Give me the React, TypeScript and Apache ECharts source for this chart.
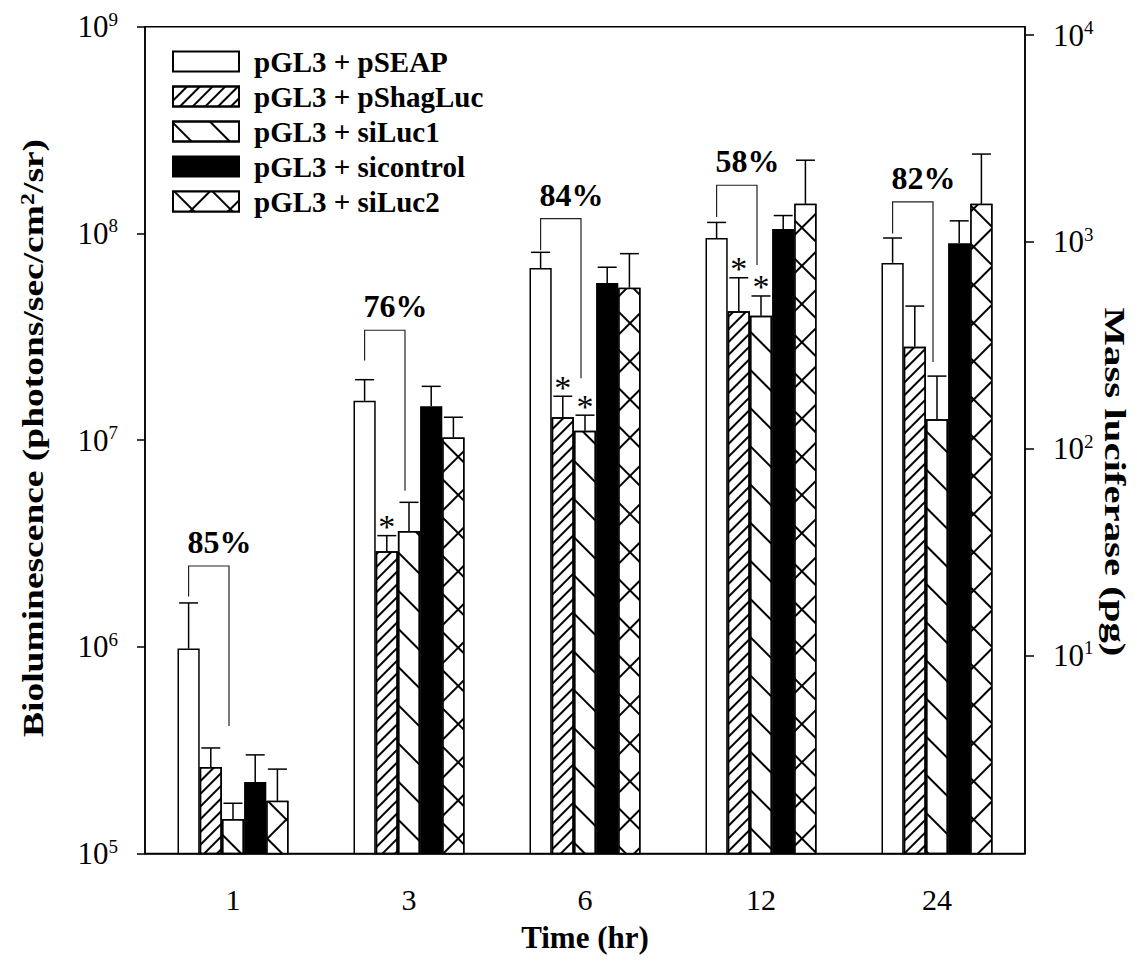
import React, { useEffect, useRef } from 'react';
import * as echarts from 'echarts';

// ---------- data ----------
const CATEGORIES = ['1', '3', '6', '12', '24'];
const SERIES_NAMES = [
  'pGL3 + pSEAP',
  'pGL3 + pShagLuc',
  'pGL3 + siLuc1',
  'pGL3 + sicontrol',
  'pGL3 + siLuc2',
];

const SEAP = [9.8e5, 1.55e7, 6.8e7, 9.5e7, 7.2e7];
const SEAP_ERR = [1.63e6, 1.96e7, 8.1e7, 1.13e8, 9.5e7];
const SHAG = [2.62e5, 2.9e6, 1.29e7, 4.2e7, 2.83e7];
const SHAG_ERR = [3.24e5, 3.45e6, 1.63e7, 6.1e7, 4.45e7];
const SILUC1 = [1.47e5, 3.63e6, 1.11e7, 4.0e7, 1.26e7];
const SILUC1_ERR = [1.75e5, 5.0e6, 1.32e7, 4.98e7, 2.04e7];
const SICONTROL = [2.22e5, 1.46e7, 5.75e7, 1.05e8, 8.96e7];
const SICONTROL_ERR = [3.0e5, 1.82e7, 6.86e7, 1.22e8, 1.15e8];
const SILUC2 = [1.8e5, 1.03e7, 5.46e7, 1.39e8, 1.39e8];
const SILUC2_ERR = [2.56e5, 1.29e7, 7.98e7, 2.26e8, 2.42e8];

const REDUCTION_LABELS = ['85%', '76%', '84%', '58%', '82%'];
const BRACKET_LEVEL = [2.46e6, 3.4e7, 1.18e8, 1.71e8, 1.42e8];
const BRACKET_LEFT_END = [1.75e6, 2.43e7, 8.3e7, 1.2e8, 1.0e8];
const BRACKET_RIGHT_END = [4.14e5, 5.69e6, 1.99e7, 7.03e7, 2.39e7];

// [category index, series index] of bars marked with "*"
const SIGNIFICANT = [
  [1, 1],
  [2, 1],
  [2, 2],
  [3, 1],
  [3, 2],
];

const LEFT_MIN = 1e5;
const LEFT_MAX = 1e9;
// right axis (Mass luciferase, pg) in log10 units
const RIGHT_MIN_EXP = 0.041;
const RIGHT_MAX_EXP = 4.041;
const RIGHT_TICK_EXPONENTS = [1, 2, 3, 4];

// ---------- styles ----------
const FONT = "'Liberation Serif', 'Times New Roman', serif";
const BAR_W = 22.2;
const CAP_W = 19;

export default function App() {
  const ref = useRef<HTMLDivElement>(null);

  useEffect(() => {
    const chart = echarts.init(ref.current!, null, { renderer: 'svg' });

    const values = [SEAP, SHAG, SILUC1, SICONTROL, SILUC2];
    const errs = [SEAP_ERR, SHAG_ERR, SILUC1_ERR, SICONTROL_ERR, SILUC2_ERR];

    const decals: any[] = [
      null,
      {
        symbol: 'rect',
        symbolSize: 1,
        dashArrayX: [1, 0],
        dashArrayY: [2, 7],
        rotation: -Math.PI / 4,
        color: '#000',
      },
      {
        symbol: 'rect',
        symbolSize: 1,
        dashArrayX: [1, 0],
        dashArrayY: [2, 25],
        rotation: Math.PI / 4,
        color: '#000',
      },
      null,
      {
        symbol: 'rect',
        symbolSize: 1,
        dashArrayX: [25, 2],
        dashArrayY: [25, 2],
        rotation: Math.PI / 4,
        color: '#fff',
      },
    ];
    const colors = ['#fff', '#fff', '#fff', '#000', '#000'];

    const barSeries = SERIES_NAMES.map((name, s) => {
      const itemStyle: any = {
        color: colors[s],
        borderColor: '#000',
        borderWidth: 1.5,
      };
      if (decals[s]) itemStyle.decal = decals[s];
      return {
        type: 'bar',
        name,
        data: values[s],
        barWidth: BAR_W,
        barGap: '0%',
        itemStyle,
        silent: true,
        z: 2,
      };
    });

    const errData: number[][] = [];
    values.forEach((arr, s) =>
      arr.forEach((v, c) => errData.push([c, v, errs[s][c], s]))
    );

    const bracketData = CATEGORIES.map((_, c) => [
      c,
      BRACKET_LEVEL[c],
      BRACKET_LEFT_END[c],
      BRACKET_RIGHT_END[c],
    ]);

    const starData = SIGNIFICANT.map(([c, s]) => [c, errs[s][c], s]);

    const lineStyle = { stroke: '#000', lineWidth: 1.5 };

    const option: any = {
      animation: false,
      backgroundColor: '#fff',
      grid: {
        left: 145,
        top: 26.7,
        width: 880,
        height: 826.8,
        show: true,
        borderColor: '#000',
        borderWidth: 1.5,
        backgroundColor: 'transparent',
      },
      legend: {
        orient: 'vertical',
        left: 172,
        top: 47,
        padding: 0,
        itemWidth: 66,
        itemHeight: 20,
        itemGap: 6,
        icon: 'rect',
        selectedMode: false,
        data: SERIES_NAMES,
        textStyle: {
          fontFamily: FONT,
          fontWeight: 'bold',
          fontSize: 29,
          color: '#000',
          padding: [0, 0, 0, 10],
        },
      },
      xAxis: {
        type: 'category',
        data: CATEGORIES,
        name: 'Time (hr)',
        nameLocation: 'middle',
        nameGap: 68,
        nameTextStyle: {
          fontFamily: FONT,
          fontWeight: 'bold',
          fontSize: 31,
          color: '#000',
        },
        axisLine: { lineStyle: { color: '#000', width: 1.5 } },
        axisTick: {
          alignWithLabel: true,
          length: 10,
          lineStyle: { color: '#000', width: 1.5 },
        },
        axisLabel: {
          fontFamily: FONT,
          fontSize: 30,
          color: '#000',
          margin: 31,
        },
        splitLine: { show: false },
      },
      yAxis: [
        {
          type: 'log',
          logBase: 10,
          min: LEFT_MIN,
          max: LEFT_MAX,
          position: 'left',
          axisLine: { show: true, lineStyle: { color: '#000', width: 1.5 } },
          axisTick: { show: true, length: 8, lineStyle: { color: '#000', width: 1.5 } },
          minorTick: { show: false },
          splitLine: { show: false },
          axisLabel: {
            margin: 27,
            formatter: (v: number) => `{b|10}{s|${Math.round(Math.log10(v))}}`,
            rich: {
              b: { fontFamily: FONT, fontSize: 31, color: '#000', lineHeight: 34 },
              s: {
                fontFamily: FONT,
                fontSize: 19,
                color: '#000',
                verticalAlign: 'top',
                lineHeight: 18,
              },
            },
          },
        },
        {
          type: 'value',
          min: RIGHT_MIN_EXP,
          max: RIGHT_MAX_EXP,
          position: 'right',
          axisLine: { show: true, lineStyle: { color: '#000', width: 1.5 } },
          axisTick: {
            show: true,
            length: 9,
            customValues: RIGHT_TICK_EXPONENTS,
            lineStyle: { color: '#000', width: 1.5 },
          },
          splitLine: { show: false },
          axisLabel: {
            margin: 28,
            customValues: RIGHT_TICK_EXPONENTS,
            formatter: (v: number) => `{b|10}{s|${Math.round(v)}}`,
            rich: {
              b: { fontFamily: FONT, fontSize: 31, color: '#000', lineHeight: 34 },
              s: {
                fontFamily: FONT,
                fontSize: 19,
                color: '#000',
                verticalAlign: 'top',
                lineHeight: 18,
              },
            },
          },
        },
      ],
      graphic: [
        {
          type: 'text',
          x: 33,
          y: 438,
          rotation: Math.PI / 2,
          scaleX: 1.25,
          silent: true,
          style: {
            text: 'Bioluminescence (photons/sec/cm{sup|2}/sr)',
            fontFamily: FONT,
            fontWeight: 'bold',
            fontSize: 30,
            fill: '#000',
            align: 'center',
            verticalAlign: 'middle',
            rich: {
              sup: {
                fontFamily: FONT,
                fontWeight: 'bold',
                fontSize: 19,
                verticalAlign: 'top',
                lineHeight: 19,
              },
            },
          },
        },
        {
          type: 'text',
          x: 1115,
          y: 482,
          rotation: -Math.PI / 2,
          scaleX: 1.36,
          silent: true,
          style: {
            text: 'Mass luciferase (pg)',
            fontFamily: FONT,
            fontWeight: 'bold',
            fontSize: 30,
            fill: '#000',
            align: 'center',
            verticalAlign: 'middle',
          },
        },
      ],
      series: [
        ...barSeries,
        {
          type: 'custom',
          name: 'error bars',
          coordinateSystem: 'cartesian2d',
          silent: true,
          z: 3,
          data: errData,
          encode: { x: 0, y: 2 },
          renderItem: (_params: any, api: any) => {
            const c = api.value(0);
            const v = api.value(1);
            const e = api.value(2);
            const s = api.value(3);
            const pb = api.coord([c, v]);
            const pt = api.coord([c, e]);
            const x = pb[0] + (s - 2) * BAR_W;
            return {
              type: 'group',
              children: [
                { type: 'line', shape: { x1: x, y1: pb[1], x2: x, y2: pt[1] }, style: lineStyle },
                {
                  type: 'line',
                  shape: { x1: x - CAP_W / 2, y1: pt[1], x2: x + CAP_W / 2, y2: pt[1] },
                  style: lineStyle,
                },
              ],
            };
          },
        },
        {
          type: 'custom',
          name: 'brackets',
          coordinateSystem: 'cartesian2d',
          silent: true,
          z: 3,
          data: bracketData,
          encode: { x: 0, y: 1 },
          renderItem: (params: any, api: any) => {
            const c = api.value(0);
            const pl = api.coord([c, api.value(1)]);
            const yl = api.coord([c, api.value(2)])[1];
            const yr = api.coord([c, api.value(3)])[1];
            const xl = pl[0] - 2 * BAR_W;
            const xr = pl[0] - 4;
            return {
              type: 'group',
              children: [
                {
                  type: 'polyline',
                  shape: { points: [[xl, yl], [xl, pl[1]], [xr, pl[1]], [xr, yr]] },
                  style: { stroke: '#222', lineWidth: 1.2, fill: 'none' },
                },
                {
                  type: 'text',
                  x: xl - 1,
                  y: pl[1] - 24,
                  style: {
                    text: REDUCTION_LABELS[params.dataIndex],
                    fontFamily: FONT,
                    fontWeight: 'bold',
                    fontSize: 32,
                    fill: '#000',
                    align: 'left',
                    verticalAlign: 'middle',
                  },
                },
              ],
            };
          },
        },
        {
          type: 'custom',
          name: 'significance',
          coordinateSystem: 'cartesian2d',
          silent: true,
          z: 3,
          data: starData,
          encode: { x: 0, y: 1 },
          renderItem: (_params: any, api: any) => {
            const c = api.value(0);
            const p = api.coord([c, api.value(1)]);
            const s = api.value(2);
            return {
              type: 'text',
              x: p[0] + (s - 2) * BAR_W,
              y: p[1] - 9,
              style: {
                text: '*',
                fontFamily: FONT,
                fontSize: 34,
                fill: '#000',
                align: 'center',
                verticalAlign: 'middle',
              },
            };
          },
        },
      ],
    };

    chart.setOption(option);
    return () => chart.dispose();
  }, []);

  return (
    <div
      ref={ref}
      style={{ position: 'fixed', left: 0, top: 0, width: 1140, height: 962 }}
    />
  );
}
